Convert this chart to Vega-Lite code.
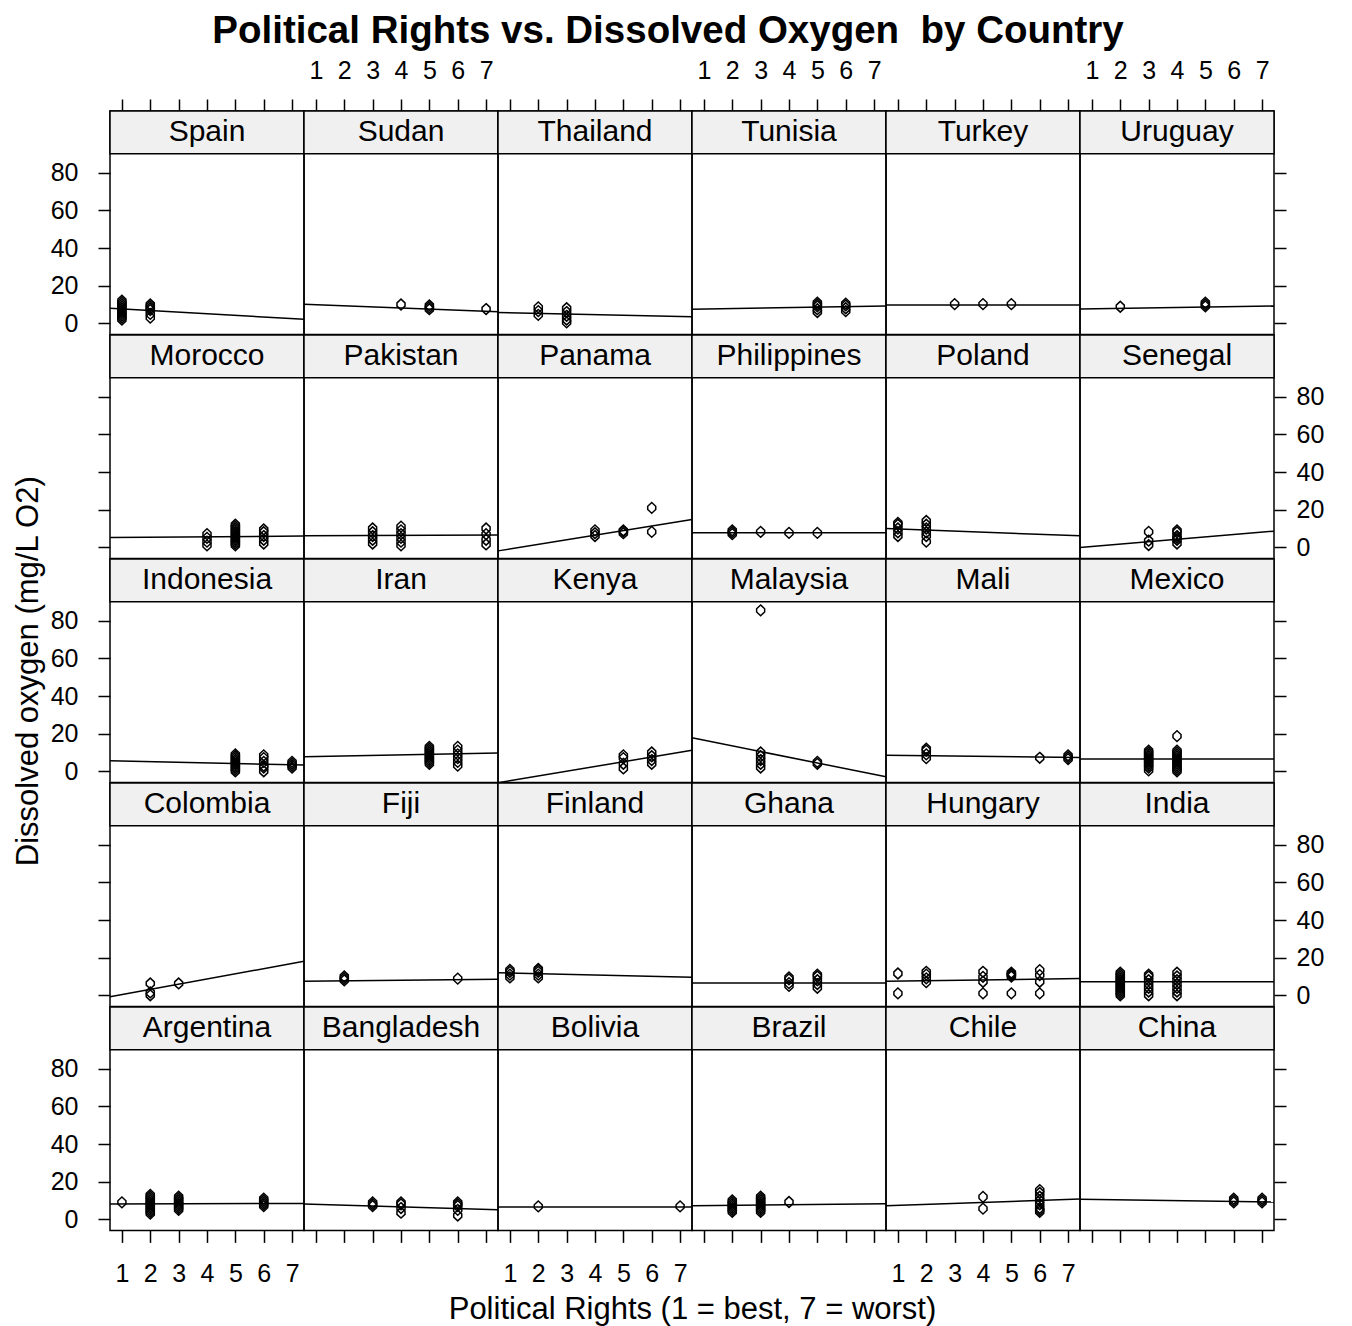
{
"$schema": "https://vega.github.io/schema/vega-lite/v6.json",
"padding": {"left": 11, "top": 11, "right": 10, "bottom": 5},
"title": {"text": "Political Rights vs. Dissolved Oxygen \u00a0by Country", "font": "Liberation Sans", "fontSize": 38.5, "fontWeight": "bold", "anchor": "middle", "offset": 6, "color": "black"},
"columns": 6,
"spacing": 0,
"bounds": "flush",
"datasets": {
"l": [
{"c":"Spain","pr":0.58,"do":8.0},{"c":"Spain","pr":7.42,"do":2.1},
{"c":"Sudan","pr":0.58,"do":10.1},{"c":"Sudan","pr":7.42,"do":6.2},
{"c":"Thailand","pr":0.58,"do":5.7},{"c":"Thailand","pr":7.42,"do":3.5},
{"c":"Tunisia","pr":0.58,"do":7.5},{"c":"Tunisia","pr":7.42,"do":9.2},
{"c":"Turkey","pr":0.58,"do":9.8},{"c":"Turkey","pr":7.42,"do":9.8},
{"c":"Uruguay","pr":0.58,"do":7.6},{"c":"Uruguay","pr":7.42,"do":9.2},
{"c":"Morocco","pr":0.58,"do":5.2},{"c":"Morocco","pr":7.42,"do":6.0},
{"c":"Pakistan","pr":0.58,"do":6.2},{"c":"Pakistan","pr":7.42,"do":6.6},
{"c":"Panama","pr":0.58,"do":-1.9},{"c":"Panama","pr":7.42,"do":14.8},
{"c":"Philippines","pr":0.58,"do":7.7},{"c":"Philippines","pr":7.42,"do":7.7},
{"c":"Poland","pr":0.58,"do":10.0},{"c":"Poland","pr":7.42,"do":6.1},
{"c":"Senegal","pr":0.58,"do":-0.1},{"c":"Senegal","pr":7.42,"do":8.6},
{"c":"Indonesia","pr":0.58,"do":5.6},{"c":"Indonesia","pr":7.42,"do":3.3},
{"c":"Iran","pr":0.58,"do":7.7},{"c":"Iran","pr":7.42,"do":9.8},
{"c":"Kenya","pr":0.58,"do":-6.1},{"c":"Kenya","pr":7.42,"do":11.2},
{"c":"Malaysia","pr":0.58,"do":17.8},{"c":"Malaysia","pr":7.42,"do":-2.9},
{"c":"Mali","pr":0.58,"do":8.5},{"c":"Mali","pr":7.42,"do":7.3},
{"c":"Mexico","pr":0.58,"do":6.5},{"c":"Mexico","pr":7.42,"do":6.5},
{"c":"Colombia","pr":0.58,"do":-0.8},{"c":"Colombia","pr":7.42,"do":18.1},
{"c":"Fiji","pr":0.58,"do":7.5},{"c":"Fiji","pr":7.42,"do":8.6},
{"c":"Finland","pr":0.58,"do":12.0},{"c":"Finland","pr":7.42,"do":9.6},
{"c":"Ghana","pr":0.58,"do":6.6},{"c":"Ghana","pr":7.42,"do":6.6},
{"c":"Hungary","pr":0.58,"do":7.5},{"c":"Hungary","pr":7.42,"do":8.9},
{"c":"India","pr":0.58,"do":7.2},{"c":"India","pr":7.42,"do":7.2},
{"c":"Argentina","pr":0.58,"do":8.2},{"c":"Argentina","pr":7.42,"do":8.4},
{"c":"Bangladesh","pr":0.58,"do":8.1},{"c":"Bangladesh","pr":7.42,"do":5.1},
{"c":"Bolivia","pr":0.58,"do":6.5},{"c":"Bolivia","pr":7.42,"do":6.5},
{"c":"Brazil","pr":0.58,"do":7.2},{"c":"Brazil","pr":7.42,"do":8.3},
{"c":"Chile","pr":0.58,"do":7.2},{"c":"Chile","pr":7.42,"do":10.8},
{"c":"China","pr":0.58,"do":10.6},{"c":"China","pr":7.42,"do":9.2}
],
"p": [
{"c":"Spain","pr":1,"do":2},{"c":"Spain","pr":1,"do":3},{"c":"Spain","pr":1,"do":4},{"c":"Spain","pr":1,"do":5},{"c":"Spain","pr":1,"do":6},{"c":"Spain","pr":1,"do":7},{"c":"Spain","pr":1,"do":8},{"c":"Spain","pr":1,"do":9},{"c":"Spain","pr":1,"do":10},{"c":"Spain","pr":1,"do":11},{"c":"Spain","pr":1,"do":12},
{"c":"Spain","pr":2,"do":3},{"c":"Spain","pr":2,"do":5},{"c":"Spain","pr":2,"do":7},{"c":"Spain","pr":2,"do":8},{"c":"Spain","pr":2,"do":9},{"c":"Spain","pr":2,"do":10},
{"c":"Sudan","pr":4,"do":10},{"c":"Sudan","pr":5,"do":7.5},{"c":"Sudan","pr":5,"do":8.5},{"c":"Sudan","pr":5,"do":9.5},{"c":"Sudan","pr":7,"do":7.6},
{"c":"Thailand","pr":2,"do":4.5},{"c":"Thailand","pr":2,"do":6.5},{"c":"Thailand","pr":2,"do":8.5},{"c":"Thailand","pr":3,"do":0.5},{"c":"Thailand","pr":3,"do":2},{"c":"Thailand","pr":3,"do":4},{"c":"Thailand","pr":3,"do":6},{"c":"Thailand","pr":3,"do":8},
{"c":"Tunisia","pr":5,"do":6},{"c":"Tunisia","pr":5,"do":7.5},{"c":"Tunisia","pr":5,"do":9},{"c":"Tunisia","pr":5,"do":10},{"c":"Tunisia","pr":5,"do":11},{"c":"Tunisia","pr":6,"do":6.5},{"c":"Tunisia","pr":6,"do":8},{"c":"Tunisia","pr":6,"do":9.5},{"c":"Tunisia","pr":6,"do":10.5},
{"c":"Turkey","pr":3,"do":10.2},{"c":"Turkey","pr":4,"do":10.2},{"c":"Turkey","pr":5,"do":10.2},
{"c":"Uruguay","pr":2,"do":8.8},{"c":"Uruguay","pr":5,"do":9},{"c":"Uruguay","pr":5,"do":10},{"c":"Uruguay","pr":5,"do":11},
{"c":"Morocco","pr":4,"do":1},{"c":"Morocco","pr":4,"do":3},{"c":"Morocco","pr":4,"do":5},{"c":"Morocco","pr":4,"do":7},
{"c":"Morocco","pr":5,"do":1},{"c":"Morocco","pr":5,"do":2},{"c":"Morocco","pr":5,"do":3},{"c":"Morocco","pr":5,"do":4},{"c":"Morocco","pr":5,"do":5},{"c":"Morocco","pr":5,"do":6},{"c":"Morocco","pr":5,"do":7},{"c":"Morocco","pr":5,"do":8},{"c":"Morocco","pr":5,"do":9},{"c":"Morocco","pr":5,"do":10},{"c":"Morocco","pr":5,"do":11},{"c":"Morocco","pr":5,"do":12},
{"c":"Morocco","pr":6,"do":2},{"c":"Morocco","pr":6,"do":4},{"c":"Morocco","pr":6,"do":6},{"c":"Morocco","pr":6,"do":8},{"c":"Morocco","pr":6,"do":9.5},
{"c":"Pakistan","pr":3,"do":2},{"c":"Pakistan","pr":3,"do":4},{"c":"Pakistan","pr":3,"do":6},{"c":"Pakistan","pr":3,"do":8},{"c":"Pakistan","pr":3,"do":10},
{"c":"Pakistan","pr":4,"do":1},{"c":"Pakistan","pr":4,"do":3},{"c":"Pakistan","pr":4,"do":5},{"c":"Pakistan","pr":4,"do":7},{"c":"Pakistan","pr":4,"do":9},{"c":"Pakistan","pr":4,"do":11},
{"c":"Pakistan","pr":7,"do":1.5},{"c":"Pakistan","pr":7,"do":4},{"c":"Pakistan","pr":7,"do":7},{"c":"Pakistan","pr":7,"do":10},
{"c":"Panama","pr":4,"do":6},{"c":"Panama","pr":4,"do":7.5},{"c":"Panama","pr":4,"do":9},{"c":"Panama","pr":5,"do":7.5},{"c":"Panama","pr":5,"do":8.5},{"c":"Panama","pr":5,"do":9},{"c":"Panama","pr":6,"do":21},{"c":"Panama","pr":6,"do":8.2},
{"c":"Philippines","pr":2,"do":7},{"c":"Philippines","pr":2,"do":8},{"c":"Philippines","pr":2,"do":9},{"c":"Philippines","pr":3,"do":8.2},{"c":"Philippines","pr":4,"do":7.7},{"c":"Philippines","pr":5,"do":7.7},
{"c":"Poland","pr":1,"do":6},{"c":"Poland","pr":1,"do":8},{"c":"Poland","pr":1,"do":10},{"c":"Poland","pr":1,"do":12},{"c":"Poland","pr":1,"do":13},
{"c":"Poland","pr":2,"do":3},{"c":"Poland","pr":2,"do":6},{"c":"Poland","pr":2,"do":8},{"c":"Poland","pr":2,"do":10},{"c":"Poland","pr":2,"do":12},{"c":"Poland","pr":2,"do":14},
{"c":"Senegal","pr":3,"do":1.2},{"c":"Senegal","pr":3,"do":3.5},{"c":"Senegal","pr":3,"do":8.2},
{"c":"Senegal","pr":4,"do":2},{"c":"Senegal","pr":4,"do":4},{"c":"Senegal","pr":4,"do":5},{"c":"Senegal","pr":4,"do":6},{"c":"Senegal","pr":4,"do":8},{"c":"Senegal","pr":4,"do":9},
{"c":"Indonesia","pr":5,"do":0},{"c":"Indonesia","pr":5,"do":1},{"c":"Indonesia","pr":5,"do":2},{"c":"Indonesia","pr":5,"do":3},{"c":"Indonesia","pr":5,"do":4},{"c":"Indonesia","pr":5,"do":5},{"c":"Indonesia","pr":5,"do":6},{"c":"Indonesia","pr":5,"do":7},{"c":"Indonesia","pr":5,"do":8},{"c":"Indonesia","pr":5,"do":9},
{"c":"Indonesia","pr":6,"do":0},{"c":"Indonesia","pr":6,"do":2},{"c":"Indonesia","pr":6,"do":3},{"c":"Indonesia","pr":6,"do":5},{"c":"Indonesia","pr":6,"do":7},{"c":"Indonesia","pr":6,"do":8.5},
{"c":"Indonesia","pr":7,"do":2},{"c":"Indonesia","pr":7,"do":3},{"c":"Indonesia","pr":7,"do":4},{"c":"Indonesia","pr":7,"do":5},
{"c":"Iran","pr":5,"do":4},{"c":"Iran","pr":5,"do":5},{"c":"Iran","pr":5,"do":6},{"c":"Iran","pr":5,"do":7},{"c":"Iran","pr":5,"do":8},{"c":"Iran","pr":5,"do":9},{"c":"Iran","pr":5,"do":10},{"c":"Iran","pr":5,"do":11},{"c":"Iran","pr":5,"do":12},{"c":"Iran","pr":5,"do":13},
{"c":"Iran","pr":6,"do":3},{"c":"Iran","pr":6,"do":5},{"c":"Iran","pr":6,"do":7},{"c":"Iran","pr":6,"do":9},{"c":"Iran","pr":6,"do":11},{"c":"Iran","pr":6,"do":13},
{"c":"Kenya","pr":5,"do":1.5},{"c":"Kenya","pr":5,"do":4},{"c":"Kenya","pr":5,"do":7},{"c":"Kenya","pr":5,"do":8.5},{"c":"Kenya","pr":6,"do":4},{"c":"Kenya","pr":6,"do":6},{"c":"Kenya","pr":6,"do":8},{"c":"Kenya","pr":6,"do":10},
{"c":"Malaysia","pr":3,"do":85.6},{"c":"Malaysia","pr":3,"do":2},{"c":"Malaysia","pr":3,"do":4},{"c":"Malaysia","pr":3,"do":6},{"c":"Malaysia","pr":3,"do":8},{"c":"Malaysia","pr":3,"do":10},{"c":"Malaysia","pr":5,"do":4},{"c":"Malaysia","pr":5,"do":5},
{"c":"Mali","pr":2,"do":7},{"c":"Mali","pr":2,"do":9},{"c":"Mali","pr":2,"do":11},{"c":"Mali","pr":2,"do":12},{"c":"Mali","pr":6,"do":7.2},{"c":"Mali","pr":7,"do":6.5},{"c":"Mali","pr":7,"do":7.5},{"c":"Mali","pr":7,"do":8.5},
{"c":"Mexico","pr":3,"do":0.5},{"c":"Mexico","pr":3,"do":2},{"c":"Mexico","pr":3,"do":3},{"c":"Mexico","pr":3,"do":4},{"c":"Mexico","pr":3,"do":5},{"c":"Mexico","pr":3,"do":6},{"c":"Mexico","pr":3,"do":7},{"c":"Mexico","pr":3,"do":8},{"c":"Mexico","pr":3,"do":9},{"c":"Mexico","pr":3,"do":10},{"c":"Mexico","pr":3,"do":11},
{"c":"Mexico","pr":4,"do":18.7},{"c":"Mexico","pr":4,"do":0},{"c":"Mexico","pr":4,"do":1},{"c":"Mexico","pr":4,"do":2},{"c":"Mexico","pr":4,"do":3},{"c":"Mexico","pr":4,"do":4},{"c":"Mexico","pr":4,"do":5},{"c":"Mexico","pr":4,"do":6},{"c":"Mexico","pr":4,"do":7},{"c":"Mexico","pr":4,"do":8},{"c":"Mexico","pr":4,"do":9},{"c":"Mexico","pr":4,"do":10},{"c":"Mexico","pr":4,"do":11},
{"c":"Colombia","pr":2,"do":0},{"c":"Colombia","pr":2,"do":1.5},{"c":"Colombia","pr":2,"do":6.3},{"c":"Colombia","pr":3,"do":6.3},
{"c":"Fiji","pr":2,"do":8},{"c":"Fiji","pr":2,"do":9},{"c":"Fiji","pr":2,"do":10},{"c":"Fiji","pr":6,"do":8.9},
{"c":"Finland","pr":1,"do":9.5},{"c":"Finland","pr":1,"do":11},{"c":"Finland","pr":1,"do":12.5},{"c":"Finland","pr":1,"do":13.5},{"c":"Finland","pr":2,"do":9.5},{"c":"Finland","pr":2,"do":11},{"c":"Finland","pr":2,"do":12.5},{"c":"Finland","pr":2,"do":13.5},{"c":"Finland","pr":2,"do":14},
{"c":"Ghana","pr":4,"do":5},{"c":"Ghana","pr":4,"do":6.5},{"c":"Ghana","pr":4,"do":8.5},{"c":"Ghana","pr":4,"do":9.5},{"c":"Ghana","pr":5,"do":4},{"c":"Ghana","pr":5,"do":6},{"c":"Ghana","pr":5,"do":8},{"c":"Ghana","pr":5,"do":10},{"c":"Ghana","pr":5,"do":11},
{"c":"Hungary","pr":1,"do":11.6},{"c":"Hungary","pr":1,"do":1},{"c":"Hungary","pr":2,"do":7},{"c":"Hungary","pr":2,"do":9},{"c":"Hungary","pr":2,"do":11},{"c":"Hungary","pr":2,"do":12.5},
{"c":"Hungary","pr":4,"do":12.5},{"c":"Hungary","pr":4,"do":9.8},{"c":"Hungary","pr":4,"do":7.2},{"c":"Hungary","pr":4,"do":1},
{"c":"Hungary","pr":5,"do":10},{"c":"Hungary","pr":5,"do":10.7},{"c":"Hungary","pr":5,"do":11.5},{"c":"Hungary","pr":5,"do":12},{"c":"Hungary","pr":5,"do":1},
{"c":"Hungary","pr":6,"do":13.4},{"c":"Hungary","pr":6,"do":10.7},{"c":"Hungary","pr":6,"do":7.2},{"c":"Hungary","pr":6,"do":1},
{"c":"India","pr":2,"do":0},{"c":"India","pr":2,"do":1},{"c":"India","pr":2,"do":2},{"c":"India","pr":2,"do":3},{"c":"India","pr":2,"do":4},{"c":"India","pr":2,"do":5},{"c":"India","pr":2,"do":6},{"c":"India","pr":2,"do":7},{"c":"India","pr":2,"do":8},{"c":"India","pr":2,"do":9},{"c":"India","pr":2,"do":10},{"c":"India","pr":2,"do":11},{"c":"India","pr":2,"do":12},
{"c":"India","pr":3,"do":0},{"c":"India","pr":3,"do":2},{"c":"India","pr":3,"do":4},{"c":"India","pr":3,"do":6},{"c":"India","pr":3,"do":8},{"c":"India","pr":3,"do":10},{"c":"India","pr":3,"do":11},
{"c":"India","pr":4,"do":0},{"c":"India","pr":4,"do":2},{"c":"India","pr":4,"do":4},{"c":"India","pr":4,"do":6},{"c":"India","pr":4,"do":8},{"c":"India","pr":4,"do":10},{"c":"India","pr":4,"do":12},
{"c":"Argentina","pr":1,"do":9},
{"c":"Argentina","pr":2,"do":3},{"c":"Argentina","pr":2,"do":4},{"c":"Argentina","pr":2,"do":5},{"c":"Argentina","pr":2,"do":6},{"c":"Argentina","pr":2,"do":7},{"c":"Argentina","pr":2,"do":8},{"c":"Argentina","pr":2,"do":9},{"c":"Argentina","pr":2,"do":10},{"c":"Argentina","pr":2,"do":11},{"c":"Argentina","pr":2,"do":12},{"c":"Argentina","pr":2,"do":13},
{"c":"Argentina","pr":3,"do":5},{"c":"Argentina","pr":3,"do":6},{"c":"Argentina","pr":3,"do":7},{"c":"Argentina","pr":3,"do":8},{"c":"Argentina","pr":3,"do":9},{"c":"Argentina","pr":3,"do":10},{"c":"Argentina","pr":3,"do":11},{"c":"Argentina","pr":3,"do":12},
{"c":"Argentina","pr":6,"do":7},{"c":"Argentina","pr":6,"do":8},{"c":"Argentina","pr":6,"do":9},{"c":"Argentina","pr":6,"do":10},{"c":"Argentina","pr":6,"do":11},
{"c":"Bangladesh","pr":3,"do":7},{"c":"Bangladesh","pr":3,"do":8},{"c":"Bangladesh","pr":3,"do":9},{"c":"Bangladesh","pr":4,"do":3.5},{"c":"Bangladesh","pr":4,"do":6},{"c":"Bangladesh","pr":4,"do":8},{"c":"Bangladesh","pr":4,"do":9},
{"c":"Bangladesh","pr":6,"do":2},{"c":"Bangladesh","pr":6,"do":5},{"c":"Bangladesh","pr":6,"do":7},{"c":"Bangladesh","pr":6,"do":8},{"c":"Bangladesh","pr":6,"do":9},
{"c":"Bolivia","pr":2,"do":6.9},{"c":"Bolivia","pr":7,"do":6.9},
{"c":"Brazil","pr":2,"do":4},{"c":"Brazil","pr":2,"do":5},{"c":"Brazil","pr":2,"do":6},{"c":"Brazil","pr":2,"do":7},{"c":"Brazil","pr":2,"do":8},{"c":"Brazil","pr":2,"do":9},{"c":"Brazil","pr":2,"do":10},
{"c":"Brazil","pr":3,"do":4},{"c":"Brazil","pr":3,"do":5},{"c":"Brazil","pr":3,"do":6},{"c":"Brazil","pr":3,"do":7},{"c":"Brazil","pr":3,"do":8},{"c":"Brazil","pr":3,"do":9},{"c":"Brazil","pr":3,"do":10},{"c":"Brazil","pr":3,"do":11},{"c":"Brazil","pr":3,"do":12},
{"c":"Brazil","pr":4,"do":9.2},
{"c":"Chile","pr":4,"do":11.9},{"c":"Chile","pr":4,"do":5.7},
{"c":"Chile","pr":6,"do":4},{"c":"Chile","pr":6,"do":5},{"c":"Chile","pr":6,"do":6},{"c":"Chile","pr":6,"do":8},{"c":"Chile","pr":6,"do":10},{"c":"Chile","pr":6,"do":12},{"c":"Chile","pr":6,"do":14},{"c":"Chile","pr":6,"do":15.5},
{"c":"China","pr":6,"do":9},{"c":"China","pr":6,"do":10},{"c":"China","pr":6,"do":11},{"c":"China","pr":7,"do":9},{"c":"China","pr":7,"do":10},{"c":"China","pr":7,"do":11}
]
},
"concat": [
{"layer":[
{"data":{"values":[{}]},"mark":"rect","encoding":{"x":{"datum":0.58,"type":"quantitative","scale":{"domain":[0.58,7.42]}},"x2":{"datum":7.42},"y":{"datum":90.1,"type":"quantitative","scale":{"domain":[-5.9,112.9]}},"y2":{"datum":112.9}}},
{"data":{"values":[{}]},"mark":{"type":"text","text":"Spain"},"encoding":{"x":{"datum":4,"type":"quantitative","scale":{"domain":[0.58,7.42]}},"y":{"datum":101.5,"type":"quantitative","scale":{"domain":[-5.9,112.9]}}}},
{"data":{"name":"l"},"transform":[{"filter":"datum.c=='Spain'"}],"mark":"line","encoding":{"x":{"field":"pr","type":"quantitative","scale":{"domain":[0.58,7.42]},"axis":{"orient":"top","values":[1,2,3,4,5,6,7],"labels":false,"title":null}},"y":{"field":"do","type":"quantitative","scale":{"domain":[-5.9,112.9]}}}},
{"data":{"name":"p"},"transform":[{"filter":"datum.c=='Spain'"}],"mark":"point","encoding":{"x":{"field":"pr","type":"quantitative","scale":{"domain":[0.58,7.42]}},"y":{"field":"do","type":"quantitative","scale":{"domain":[-5.9,112.9]},"axis":{"orient":"left","values":[0,20,40,60,80],"title":null}}}}
],"resolve":{"axis":{"x":"independent","y":"independent"}}},
{"layer":[
{"data":{"values":[{}]},"mark":"rect","encoding":{"x":{"datum":0.58,"type":"quantitative","scale":{"domain":[0.58,7.42]}},"x2":{"datum":7.42},"y":{"datum":90.1,"type":"quantitative","scale":{"domain":[-5.9,112.9]}},"y2":{"datum":112.9}}},
{"data":{"values":[{}]},"mark":{"type":"text","text":"Sudan"},"encoding":{"x":{"datum":4,"type":"quantitative","scale":{"domain":[0.58,7.42]}},"y":{"datum":101.5,"type":"quantitative","scale":{"domain":[-5.9,112.9]}}}},
{"data":{"name":"l"},"transform":[{"filter":"datum.c=='Sudan'"}],"mark":"line","encoding":{"x":{"field":"pr","type":"quantitative","scale":{"domain":[0.58,7.42]},"axis":{"orient":"top","values":[1,2,3,4,5,6,7],"title":null}},"y":{"field":"do","type":"quantitative","scale":{"domain":[-5.9,112.9]}}}},
{"data":{"name":"p"},"transform":[{"filter":"datum.c=='Sudan'"}],"mark":"point","encoding":{"x":{"field":"pr","type":"quantitative","scale":{"domain":[0.58,7.42]}},"y":{"field":"do","type":"quantitative","scale":{"domain":[-5.9,112.9]}}}}
],"resolve":{"axis":{"x":"independent","y":"independent"}}},
{"layer":[
{"data":{"values":[{}]},"mark":"rect","encoding":{"x":{"datum":0.58,"type":"quantitative","scale":{"domain":[0.58,7.42]}},"x2":{"datum":7.42},"y":{"datum":90.1,"type":"quantitative","scale":{"domain":[-5.9,112.9]}},"y2":{"datum":112.9}}},
{"data":{"values":[{}]},"mark":{"type":"text","text":"Thailand"},"encoding":{"x":{"datum":4,"type":"quantitative","scale":{"domain":[0.58,7.42]}},"y":{"datum":101.5,"type":"quantitative","scale":{"domain":[-5.9,112.9]}}}},
{"data":{"name":"l"},"transform":[{"filter":"datum.c=='Thailand'"}],"mark":"line","encoding":{"x":{"field":"pr","type":"quantitative","scale":{"domain":[0.58,7.42]},"axis":{"orient":"top","values":[1,2,3,4,5,6,7],"labels":false,"title":null}},"y":{"field":"do","type":"quantitative","scale":{"domain":[-5.9,112.9]}}}},
{"data":{"name":"p"},"transform":[{"filter":"datum.c=='Thailand'"}],"mark":"point","encoding":{"x":{"field":"pr","type":"quantitative","scale":{"domain":[0.58,7.42]}},"y":{"field":"do","type":"quantitative","scale":{"domain":[-5.9,112.9]}}}}
],"resolve":{"axis":{"x":"independent","y":"independent"}}},
{"layer":[
{"data":{"values":[{}]},"mark":"rect","encoding":{"x":{"datum":0.58,"type":"quantitative","scale":{"domain":[0.58,7.42]}},"x2":{"datum":7.42},"y":{"datum":90.1,"type":"quantitative","scale":{"domain":[-5.9,112.9]}},"y2":{"datum":112.9}}},
{"data":{"values":[{}]},"mark":{"type":"text","text":"Tunisia"},"encoding":{"x":{"datum":4,"type":"quantitative","scale":{"domain":[0.58,7.42]}},"y":{"datum":101.5,"type":"quantitative","scale":{"domain":[-5.9,112.9]}}}},
{"data":{"name":"l"},"transform":[{"filter":"datum.c=='Tunisia'"}],"mark":"line","encoding":{"x":{"field":"pr","type":"quantitative","scale":{"domain":[0.58,7.42]},"axis":{"orient":"top","values":[1,2,3,4,5,6,7],"title":null}},"y":{"field":"do","type":"quantitative","scale":{"domain":[-5.9,112.9]}}}},
{"data":{"name":"p"},"transform":[{"filter":"datum.c=='Tunisia'"}],"mark":"point","encoding":{"x":{"field":"pr","type":"quantitative","scale":{"domain":[0.58,7.42]}},"y":{"field":"do","type":"quantitative","scale":{"domain":[-5.9,112.9]}}}}
],"resolve":{"axis":{"x":"independent","y":"independent"}}},
{"layer":[
{"data":{"values":[{}]},"mark":"rect","encoding":{"x":{"datum":0.58,"type":"quantitative","scale":{"domain":[0.58,7.42]}},"x2":{"datum":7.42},"y":{"datum":90.1,"type":"quantitative","scale":{"domain":[-5.9,112.9]}},"y2":{"datum":112.9}}},
{"data":{"values":[{}]},"mark":{"type":"text","text":"Turkey"},"encoding":{"x":{"datum":4,"type":"quantitative","scale":{"domain":[0.58,7.42]}},"y":{"datum":101.5,"type":"quantitative","scale":{"domain":[-5.9,112.9]}}}},
{"data":{"name":"l"},"transform":[{"filter":"datum.c=='Turkey'"}],"mark":"line","encoding":{"x":{"field":"pr","type":"quantitative","scale":{"domain":[0.58,7.42]},"axis":{"orient":"top","values":[1,2,3,4,5,6,7],"labels":false,"title":null}},"y":{"field":"do","type":"quantitative","scale":{"domain":[-5.9,112.9]}}}},
{"data":{"name":"p"},"transform":[{"filter":"datum.c=='Turkey'"}],"mark":"point","encoding":{"x":{"field":"pr","type":"quantitative","scale":{"domain":[0.58,7.42]}},"y":{"field":"do","type":"quantitative","scale":{"domain":[-5.9,112.9]}}}}
],"resolve":{"axis":{"x":"independent","y":"independent"}}},
{"layer":[
{"data":{"values":[{}]},"mark":"rect","encoding":{"x":{"datum":0.58,"type":"quantitative","scale":{"domain":[0.58,7.42]}},"x2":{"datum":7.42},"y":{"datum":90.1,"type":"quantitative","scale":{"domain":[-5.9,112.9]}},"y2":{"datum":112.9}}},
{"data":{"values":[{}]},"mark":{"type":"text","text":"Uruguay"},"encoding":{"x":{"datum":4,"type":"quantitative","scale":{"domain":[0.58,7.42]}},"y":{"datum":101.5,"type":"quantitative","scale":{"domain":[-5.9,112.9]}}}},
{"data":{"name":"l"},"transform":[{"filter":"datum.c=='Uruguay'"}],"mark":"line","encoding":{"x":{"field":"pr","type":"quantitative","scale":{"domain":[0.58,7.42]},"axis":{"orient":"top","values":[1,2,3,4,5,6,7],"title":null}},"y":{"field":"do","type":"quantitative","scale":{"domain":[-5.9,112.9]},"axis":{"orient":"right","values":[0,20,40,60,80],"labels":false,"title":null}}}},
{"data":{"name":"p"},"transform":[{"filter":"datum.c=='Uruguay'"}],"mark":"point","encoding":{"x":{"field":"pr","type":"quantitative","scale":{"domain":[0.58,7.42]}},"y":{"field":"do","type":"quantitative","scale":{"domain":[-5.9,112.9]}}}}
],"resolve":{"axis":{"x":"independent","y":"independent"}}},

{"layer":[
{"data":{"values":[{}]},"mark":"rect","encoding":{"x":{"datum":0.58,"type":"quantitative","scale":{"domain":[0.58,7.42]}},"x2":{"datum":7.42},"y":{"datum":90.1,"type":"quantitative","scale":{"domain":[-5.9,112.9]}},"y2":{"datum":112.9}}},
{"data":{"values":[{}]},"mark":{"type":"text","text":"Morocco"},"encoding":{"x":{"datum":4,"type":"quantitative","scale":{"domain":[0.58,7.42]}},"y":{"datum":101.5,"type":"quantitative","scale":{"domain":[-5.9,112.9]}}}},
{"data":{"name":"l"},"transform":[{"filter":"datum.c=='Morocco'"}],"mark":"line","encoding":{"x":{"field":"pr","type":"quantitative","scale":{"domain":[0.58,7.42]}},"y":{"field":"do","type":"quantitative","scale":{"domain":[-5.9,112.9]}}}},
{"data":{"name":"p"},"transform":[{"filter":"datum.c=='Morocco'"}],"mark":"point","encoding":{"x":{"field":"pr","type":"quantitative","scale":{"domain":[0.58,7.42]}},"y":{"field":"do","type":"quantitative","scale":{"domain":[-5.9,112.9]},"axis":{"orient":"left","values":[0,20,40,60,80],"labels":false,"title":null}}}}
],"resolve":{"axis":{"x":"independent","y":"independent"}}},
{"layer":[
{"data":{"values":[{}]},"mark":"rect","encoding":{"x":{"datum":0.58,"type":"quantitative","scale":{"domain":[0.58,7.42]}},"x2":{"datum":7.42},"y":{"datum":90.1,"type":"quantitative","scale":{"domain":[-5.9,112.9]}},"y2":{"datum":112.9}}},
{"data":{"values":[{}]},"mark":{"type":"text","text":"Pakistan"},"encoding":{"x":{"datum":4,"type":"quantitative","scale":{"domain":[0.58,7.42]}},"y":{"datum":101.5,"type":"quantitative","scale":{"domain":[-5.9,112.9]}}}},
{"data":{"name":"l"},"transform":[{"filter":"datum.c=='Pakistan'"}],"mark":"line","encoding":{"x":{"field":"pr","type":"quantitative","scale":{"domain":[0.58,7.42]}},"y":{"field":"do","type":"quantitative","scale":{"domain":[-5.9,112.9]}}}},
{"data":{"name":"p"},"transform":[{"filter":"datum.c=='Pakistan'"}],"mark":"point","encoding":{"x":{"field":"pr","type":"quantitative","scale":{"domain":[0.58,7.42]}},"y":{"field":"do","type":"quantitative","scale":{"domain":[-5.9,112.9]}}}}
]},
{"layer":[
{"data":{"values":[{}]},"mark":"rect","encoding":{"x":{"datum":0.58,"type":"quantitative","scale":{"domain":[0.58,7.42]}},"x2":{"datum":7.42},"y":{"datum":90.1,"type":"quantitative","scale":{"domain":[-5.9,112.9]}},"y2":{"datum":112.9}}},
{"data":{"values":[{}]},"mark":{"type":"text","text":"Panama"},"encoding":{"x":{"datum":4,"type":"quantitative","scale":{"domain":[0.58,7.42]}},"y":{"datum":101.5,"type":"quantitative","scale":{"domain":[-5.9,112.9]}}}},
{"data":{"name":"l"},"transform":[{"filter":"datum.c=='Panama'"}],"mark":"line","encoding":{"x":{"field":"pr","type":"quantitative","scale":{"domain":[0.58,7.42]}},"y":{"field":"do","type":"quantitative","scale":{"domain":[-5.9,112.9]}}}},
{"data":{"name":"p"},"transform":[{"filter":"datum.c=='Panama'"}],"mark":"point","encoding":{"x":{"field":"pr","type":"quantitative","scale":{"domain":[0.58,7.42]}},"y":{"field":"do","type":"quantitative","scale":{"domain":[-5.9,112.9]}}}}
]},
{"layer":[
{"data":{"values":[{}]},"mark":"rect","encoding":{"x":{"datum":0.58,"type":"quantitative","scale":{"domain":[0.58,7.42]}},"x2":{"datum":7.42},"y":{"datum":90.1,"type":"quantitative","scale":{"domain":[-5.9,112.9]}},"y2":{"datum":112.9}}},
{"data":{"values":[{}]},"mark":{"type":"text","text":"Philippines"},"encoding":{"x":{"datum":4,"type":"quantitative","scale":{"domain":[0.58,7.42]}},"y":{"datum":101.5,"type":"quantitative","scale":{"domain":[-5.9,112.9]}}}},
{"data":{"name":"l"},"transform":[{"filter":"datum.c=='Philippines'"}],"mark":"line","encoding":{"x":{"field":"pr","type":"quantitative","scale":{"domain":[0.58,7.42]}},"y":{"field":"do","type":"quantitative","scale":{"domain":[-5.9,112.9]}}}},
{"data":{"name":"p"},"transform":[{"filter":"datum.c=='Philippines'"}],"mark":"point","encoding":{"x":{"field":"pr","type":"quantitative","scale":{"domain":[0.58,7.42]}},"y":{"field":"do","type":"quantitative","scale":{"domain":[-5.9,112.9]}}}}
]},
{"layer":[
{"data":{"values":[{}]},"mark":"rect","encoding":{"x":{"datum":0.58,"type":"quantitative","scale":{"domain":[0.58,7.42]}},"x2":{"datum":7.42},"y":{"datum":90.1,"type":"quantitative","scale":{"domain":[-5.9,112.9]}},"y2":{"datum":112.9}}},
{"data":{"values":[{}]},"mark":{"type":"text","text":"Poland"},"encoding":{"x":{"datum":4,"type":"quantitative","scale":{"domain":[0.58,7.42]}},"y":{"datum":101.5,"type":"quantitative","scale":{"domain":[-5.9,112.9]}}}},
{"data":{"name":"l"},"transform":[{"filter":"datum.c=='Poland'"}],"mark":"line","encoding":{"x":{"field":"pr","type":"quantitative","scale":{"domain":[0.58,7.42]}},"y":{"field":"do","type":"quantitative","scale":{"domain":[-5.9,112.9]}}}},
{"data":{"name":"p"},"transform":[{"filter":"datum.c=='Poland'"}],"mark":"point","encoding":{"x":{"field":"pr","type":"quantitative","scale":{"domain":[0.58,7.42]}},"y":{"field":"do","type":"quantitative","scale":{"domain":[-5.9,112.9]}}}}
]},
{"layer":[
{"data":{"values":[{}]},"mark":"rect","encoding":{"x":{"datum":0.58,"type":"quantitative","scale":{"domain":[0.58,7.42]}},"x2":{"datum":7.42},"y":{"datum":90.1,"type":"quantitative","scale":{"domain":[-5.9,112.9]}},"y2":{"datum":112.9}}},
{"data":{"values":[{}]},"mark":{"type":"text","text":"Senegal"},"encoding":{"x":{"datum":4,"type":"quantitative","scale":{"domain":[0.58,7.42]}},"y":{"datum":101.5,"type":"quantitative","scale":{"domain":[-5.9,112.9]}}}},
{"data":{"name":"l"},"transform":[{"filter":"datum.c=='Senegal'"}],"mark":"line","encoding":{"x":{"field":"pr","type":"quantitative","scale":{"domain":[0.58,7.42]}},"y":{"field":"do","type":"quantitative","scale":{"domain":[-5.9,112.9]},"axis":{"orient":"right","values":[0,20,40,60,80],"title":null}}}},
{"data":{"name":"p"},"transform":[{"filter":"datum.c=='Senegal'"}],"mark":"point","encoding":{"x":{"field":"pr","type":"quantitative","scale":{"domain":[0.58,7.42]}},"y":{"field":"do","type":"quantitative","scale":{"domain":[-5.9,112.9]}}}}
],"resolve":{"axis":{"x":"independent","y":"independent"}}},

{"layer":[
{"data":{"values":[{}]},"mark":"rect","encoding":{"x":{"datum":0.58,"type":"quantitative","scale":{"domain":[0.58,7.42]}},"x2":{"datum":7.42},"y":{"datum":90.1,"type":"quantitative","scale":{"domain":[-5.9,112.9]}},"y2":{"datum":112.9}}},
{"data":{"values":[{}]},"mark":{"type":"text","text":"Indonesia"},"encoding":{"x":{"datum":4,"type":"quantitative","scale":{"domain":[0.58,7.42]}},"y":{"datum":101.5,"type":"quantitative","scale":{"domain":[-5.9,112.9]}}}},
{"data":{"name":"l"},"transform":[{"filter":"datum.c=='Indonesia'"}],"mark":"line","encoding":{"x":{"field":"pr","type":"quantitative","scale":{"domain":[0.58,7.42]}},"y":{"field":"do","type":"quantitative","scale":{"domain":[-5.9,112.9]}}}},
{"data":{"name":"p"},"transform":[{"filter":"datum.c=='Indonesia'"}],"mark":"point","encoding":{"x":{"field":"pr","type":"quantitative","scale":{"domain":[0.58,7.42]}},"y":{"field":"do","type":"quantitative","scale":{"domain":[-5.9,112.9]},"axis":{"orient":"left","values":[0,20,40,60,80],"title":"Dissolved oxygen (mg/L O2)","titlePadding":6}}}}
],"resolve":{"axis":{"x":"independent","y":"independent"}}},
{"layer":[
{"data":{"values":[{}]},"mark":"rect","encoding":{"x":{"datum":0.58,"type":"quantitative","scale":{"domain":[0.58,7.42]}},"x2":{"datum":7.42},"y":{"datum":90.1,"type":"quantitative","scale":{"domain":[-5.9,112.9]}},"y2":{"datum":112.9}}},
{"data":{"values":[{}]},"mark":{"type":"text","text":"Iran"},"encoding":{"x":{"datum":4,"type":"quantitative","scale":{"domain":[0.58,7.42]}},"y":{"datum":101.5,"type":"quantitative","scale":{"domain":[-5.9,112.9]}}}},
{"data":{"name":"l"},"transform":[{"filter":"datum.c=='Iran'"}],"mark":"line","encoding":{"x":{"field":"pr","type":"quantitative","scale":{"domain":[0.58,7.42]}},"y":{"field":"do","type":"quantitative","scale":{"domain":[-5.9,112.9]}}}},
{"data":{"name":"p"},"transform":[{"filter":"datum.c=='Iran'"}],"mark":"point","encoding":{"x":{"field":"pr","type":"quantitative","scale":{"domain":[0.58,7.42]}},"y":{"field":"do","type":"quantitative","scale":{"domain":[-5.9,112.9]}}}}
]},
{"layer":[
{"data":{"values":[{}]},"mark":"rect","encoding":{"x":{"datum":0.58,"type":"quantitative","scale":{"domain":[0.58,7.42]}},"x2":{"datum":7.42},"y":{"datum":90.1,"type":"quantitative","scale":{"domain":[-5.9,112.9]}},"y2":{"datum":112.9}}},
{"data":{"values":[{}]},"mark":{"type":"text","text":"Kenya"},"encoding":{"x":{"datum":4,"type":"quantitative","scale":{"domain":[0.58,7.42]}},"y":{"datum":101.5,"type":"quantitative","scale":{"domain":[-5.9,112.9]}}}},
{"data":{"name":"l"},"transform":[{"filter":"datum.c=='Kenya'"}],"mark":"line","encoding":{"x":{"field":"pr","type":"quantitative","scale":{"domain":[0.58,7.42]}},"y":{"field":"do","type":"quantitative","scale":{"domain":[-5.9,112.9]}}}},
{"data":{"name":"p"},"transform":[{"filter":"datum.c=='Kenya'"}],"mark":"point","encoding":{"x":{"field":"pr","type":"quantitative","scale":{"domain":[0.58,7.42]}},"y":{"field":"do","type":"quantitative","scale":{"domain":[-5.9,112.9]}}}}
]},
{"layer":[
{"data":{"values":[{}]},"mark":"rect","encoding":{"x":{"datum":0.58,"type":"quantitative","scale":{"domain":[0.58,7.42]}},"x2":{"datum":7.42},"y":{"datum":90.1,"type":"quantitative","scale":{"domain":[-5.9,112.9]}},"y2":{"datum":112.9}}},
{"data":{"values":[{}]},"mark":{"type":"text","text":"Malaysia"},"encoding":{"x":{"datum":4,"type":"quantitative","scale":{"domain":[0.58,7.42]}},"y":{"datum":101.5,"type":"quantitative","scale":{"domain":[-5.9,112.9]}}}},
{"data":{"name":"l"},"transform":[{"filter":"datum.c=='Malaysia'"}],"mark":"line","encoding":{"x":{"field":"pr","type":"quantitative","scale":{"domain":[0.58,7.42]}},"y":{"field":"do","type":"quantitative","scale":{"domain":[-5.9,112.9]}}}},
{"data":{"name":"p"},"transform":[{"filter":"datum.c=='Malaysia'"}],"mark":"point","encoding":{"x":{"field":"pr","type":"quantitative","scale":{"domain":[0.58,7.42]}},"y":{"field":"do","type":"quantitative","scale":{"domain":[-5.9,112.9]}}}}
]},
{"layer":[
{"data":{"values":[{}]},"mark":"rect","encoding":{"x":{"datum":0.58,"type":"quantitative","scale":{"domain":[0.58,7.42]}},"x2":{"datum":7.42},"y":{"datum":90.1,"type":"quantitative","scale":{"domain":[-5.9,112.9]}},"y2":{"datum":112.9}}},
{"data":{"values":[{}]},"mark":{"type":"text","text":"Mali"},"encoding":{"x":{"datum":4,"type":"quantitative","scale":{"domain":[0.58,7.42]}},"y":{"datum":101.5,"type":"quantitative","scale":{"domain":[-5.9,112.9]}}}},
{"data":{"name":"l"},"transform":[{"filter":"datum.c=='Mali'"}],"mark":"line","encoding":{"x":{"field":"pr","type":"quantitative","scale":{"domain":[0.58,7.42]}},"y":{"field":"do","type":"quantitative","scale":{"domain":[-5.9,112.9]}}}},
{"data":{"name":"p"},"transform":[{"filter":"datum.c=='Mali'"}],"mark":"point","encoding":{"x":{"field":"pr","type":"quantitative","scale":{"domain":[0.58,7.42]}},"y":{"field":"do","type":"quantitative","scale":{"domain":[-5.9,112.9]}}}}
]},
{"layer":[
{"data":{"values":[{}]},"mark":"rect","encoding":{"x":{"datum":0.58,"type":"quantitative","scale":{"domain":[0.58,7.42]}},"x2":{"datum":7.42},"y":{"datum":90.1,"type":"quantitative","scale":{"domain":[-5.9,112.9]}},"y2":{"datum":112.9}}},
{"data":{"values":[{}]},"mark":{"type":"text","text":"Mexico"},"encoding":{"x":{"datum":4,"type":"quantitative","scale":{"domain":[0.58,7.42]}},"y":{"datum":101.5,"type":"quantitative","scale":{"domain":[-5.9,112.9]}}}},
{"data":{"name":"l"},"transform":[{"filter":"datum.c=='Mexico'"}],"mark":"line","encoding":{"x":{"field":"pr","type":"quantitative","scale":{"domain":[0.58,7.42]}},"y":{"field":"do","type":"quantitative","scale":{"domain":[-5.9,112.9]},"axis":{"orient":"right","values":[0,20,40,60,80],"labels":false,"title":null}}}},
{"data":{"name":"p"},"transform":[{"filter":"datum.c=='Mexico'"}],"mark":"point","encoding":{"x":{"field":"pr","type":"quantitative","scale":{"domain":[0.58,7.42]}},"y":{"field":"do","type":"quantitative","scale":{"domain":[-5.9,112.9]}}}}
],"resolve":{"axis":{"x":"independent","y":"independent"}}},

{"layer":[
{"data":{"values":[{}]},"mark":"rect","encoding":{"x":{"datum":0.58,"type":"quantitative","scale":{"domain":[0.58,7.42]}},"x2":{"datum":7.42},"y":{"datum":90.1,"type":"quantitative","scale":{"domain":[-5.9,112.9]}},"y2":{"datum":112.9}}},
{"data":{"values":[{}]},"mark":{"type":"text","text":"Colombia"},"encoding":{"x":{"datum":4,"type":"quantitative","scale":{"domain":[0.58,7.42]}},"y":{"datum":101.5,"type":"quantitative","scale":{"domain":[-5.9,112.9]}}}},
{"data":{"name":"l"},"transform":[{"filter":"datum.c=='Colombia'"}],"mark":"line","encoding":{"x":{"field":"pr","type":"quantitative","scale":{"domain":[0.58,7.42]}},"y":{"field":"do","type":"quantitative","scale":{"domain":[-5.9,112.9]}}}},
{"data":{"name":"p"},"transform":[{"filter":"datum.c=='Colombia'"}],"mark":"point","encoding":{"x":{"field":"pr","type":"quantitative","scale":{"domain":[0.58,7.42]}},"y":{"field":"do","type":"quantitative","scale":{"domain":[-5.9,112.9]},"axis":{"orient":"left","values":[0,20,40,60,80],"labels":false,"title":null}}}}
],"resolve":{"axis":{"x":"independent","y":"independent"}}},
{"layer":[
{"data":{"values":[{}]},"mark":"rect","encoding":{"x":{"datum":0.58,"type":"quantitative","scale":{"domain":[0.58,7.42]}},"x2":{"datum":7.42},"y":{"datum":90.1,"type":"quantitative","scale":{"domain":[-5.9,112.9]}},"y2":{"datum":112.9}}},
{"data":{"values":[{}]},"mark":{"type":"text","text":"Fiji"},"encoding":{"x":{"datum":4,"type":"quantitative","scale":{"domain":[0.58,7.42]}},"y":{"datum":101.5,"type":"quantitative","scale":{"domain":[-5.9,112.9]}}}},
{"data":{"name":"l"},"transform":[{"filter":"datum.c=='Fiji'"}],"mark":"line","encoding":{"x":{"field":"pr","type":"quantitative","scale":{"domain":[0.58,7.42]}},"y":{"field":"do","type":"quantitative","scale":{"domain":[-5.9,112.9]}}}},
{"data":{"name":"p"},"transform":[{"filter":"datum.c=='Fiji'"}],"mark":"point","encoding":{"x":{"field":"pr","type":"quantitative","scale":{"domain":[0.58,7.42]}},"y":{"field":"do","type":"quantitative","scale":{"domain":[-5.9,112.9]}}}}
]},
{"layer":[
{"data":{"values":[{}]},"mark":"rect","encoding":{"x":{"datum":0.58,"type":"quantitative","scale":{"domain":[0.58,7.42]}},"x2":{"datum":7.42},"y":{"datum":90.1,"type":"quantitative","scale":{"domain":[-5.9,112.9]}},"y2":{"datum":112.9}}},
{"data":{"values":[{}]},"mark":{"type":"text","text":"Finland"},"encoding":{"x":{"datum":4,"type":"quantitative","scale":{"domain":[0.58,7.42]}},"y":{"datum":101.5,"type":"quantitative","scale":{"domain":[-5.9,112.9]}}}},
{"data":{"name":"l"},"transform":[{"filter":"datum.c=='Finland'"}],"mark":"line","encoding":{"x":{"field":"pr","type":"quantitative","scale":{"domain":[0.58,7.42]}},"y":{"field":"do","type":"quantitative","scale":{"domain":[-5.9,112.9]}}}},
{"data":{"name":"p"},"transform":[{"filter":"datum.c=='Finland'"}],"mark":"point","encoding":{"x":{"field":"pr","type":"quantitative","scale":{"domain":[0.58,7.42]}},"y":{"field":"do","type":"quantitative","scale":{"domain":[-5.9,112.9]}}}}
]},
{"layer":[
{"data":{"values":[{}]},"mark":"rect","encoding":{"x":{"datum":0.58,"type":"quantitative","scale":{"domain":[0.58,7.42]}},"x2":{"datum":7.42},"y":{"datum":90.1,"type":"quantitative","scale":{"domain":[-5.9,112.9]}},"y2":{"datum":112.9}}},
{"data":{"values":[{}]},"mark":{"type":"text","text":"Ghana"},"encoding":{"x":{"datum":4,"type":"quantitative","scale":{"domain":[0.58,7.42]}},"y":{"datum":101.5,"type":"quantitative","scale":{"domain":[-5.9,112.9]}}}},
{"data":{"name":"l"},"transform":[{"filter":"datum.c=='Ghana'"}],"mark":"line","encoding":{"x":{"field":"pr","type":"quantitative","scale":{"domain":[0.58,7.42]}},"y":{"field":"do","type":"quantitative","scale":{"domain":[-5.9,112.9]}}}},
{"data":{"name":"p"},"transform":[{"filter":"datum.c=='Ghana'"}],"mark":"point","encoding":{"x":{"field":"pr","type":"quantitative","scale":{"domain":[0.58,7.42]}},"y":{"field":"do","type":"quantitative","scale":{"domain":[-5.9,112.9]}}}}
]},
{"layer":[
{"data":{"values":[{}]},"mark":"rect","encoding":{"x":{"datum":0.58,"type":"quantitative","scale":{"domain":[0.58,7.42]}},"x2":{"datum":7.42},"y":{"datum":90.1,"type":"quantitative","scale":{"domain":[-5.9,112.9]}},"y2":{"datum":112.9}}},
{"data":{"values":[{}]},"mark":{"type":"text","text":"Hungary"},"encoding":{"x":{"datum":4,"type":"quantitative","scale":{"domain":[0.58,7.42]}},"y":{"datum":101.5,"type":"quantitative","scale":{"domain":[-5.9,112.9]}}}},
{"data":{"name":"l"},"transform":[{"filter":"datum.c=='Hungary'"}],"mark":"line","encoding":{"x":{"field":"pr","type":"quantitative","scale":{"domain":[0.58,7.42]}},"y":{"field":"do","type":"quantitative","scale":{"domain":[-5.9,112.9]}}}},
{"data":{"name":"p"},"transform":[{"filter":"datum.c=='Hungary'"}],"mark":"point","encoding":{"x":{"field":"pr","type":"quantitative","scale":{"domain":[0.58,7.42]}},"y":{"field":"do","type":"quantitative","scale":{"domain":[-5.9,112.9]}}}}
]},
{"layer":[
{"data":{"values":[{}]},"mark":"rect","encoding":{"x":{"datum":0.58,"type":"quantitative","scale":{"domain":[0.58,7.42]}},"x2":{"datum":7.42},"y":{"datum":90.1,"type":"quantitative","scale":{"domain":[-5.9,112.9]}},"y2":{"datum":112.9}}},
{"data":{"values":[{}]},"mark":{"type":"text","text":"India"},"encoding":{"x":{"datum":4,"type":"quantitative","scale":{"domain":[0.58,7.42]}},"y":{"datum":101.5,"type":"quantitative","scale":{"domain":[-5.9,112.9]}}}},
{"data":{"name":"l"},"transform":[{"filter":"datum.c=='India'"}],"mark":"line","encoding":{"x":{"field":"pr","type":"quantitative","scale":{"domain":[0.58,7.42]}},"y":{"field":"do","type":"quantitative","scale":{"domain":[-5.9,112.9]},"axis":{"orient":"right","values":[0,20,40,60,80],"title":null}}}},
{"data":{"name":"p"},"transform":[{"filter":"datum.c=='India'"}],"mark":"point","encoding":{"x":{"field":"pr","type":"quantitative","scale":{"domain":[0.58,7.42]}},"y":{"field":"do","type":"quantitative","scale":{"domain":[-5.9,112.9]}}}}
],"resolve":{"axis":{"x":"independent","y":"independent"}}},

{"layer":[
{"data":{"values":[{}]},"mark":"rect","encoding":{"x":{"datum":0.58,"type":"quantitative","scale":{"domain":[0.58,7.42]}},"x2":{"datum":7.42},"y":{"datum":90.1,"type":"quantitative","scale":{"domain":[-5.9,112.9]}},"y2":{"datum":112.9}}},
{"data":{"values":[{}]},"mark":{"type":"text","text":"Argentina"},"encoding":{"x":{"datum":4,"type":"quantitative","scale":{"domain":[0.58,7.42]}},"y":{"datum":101.5,"type":"quantitative","scale":{"domain":[-5.9,112.9]}}}},
{"data":{"name":"l"},"transform":[{"filter":"datum.c=='Argentina'"}],"mark":"line","encoding":{"x":{"field":"pr","type":"quantitative","scale":{"domain":[0.58,7.42]}},"y":{"field":"do","type":"quantitative","scale":{"domain":[-5.9,112.9]}}}},
{"data":{"name":"p"},"transform":[{"filter":"datum.c=='Argentina'"}],"mark":"point","encoding":{"x":{"field":"pr","type":"quantitative","scale":{"domain":[0.58,7.42]},"axis":{"orient":"bottom","values":[1,2,3,4,5,6,7],"title":null}},"y":{"field":"do","type":"quantitative","scale":{"domain":[-5.9,112.9]},"axis":{"orient":"left","values":[0,20,40,60,80],"title":null}}}}
],"resolve":{"axis":{"x":"independent","y":"independent"}}},
{"layer":[
{"data":{"values":[{}]},"mark":"rect","encoding":{"x":{"datum":0.58,"type":"quantitative","scale":{"domain":[0.58,7.42]}},"x2":{"datum":7.42},"y":{"datum":90.1,"type":"quantitative","scale":{"domain":[-5.9,112.9]}},"y2":{"datum":112.9}}},
{"data":{"values":[{}]},"mark":{"type":"text","text":"Bangladesh"},"encoding":{"x":{"datum":4,"type":"quantitative","scale":{"domain":[0.58,7.42]}},"y":{"datum":101.5,"type":"quantitative","scale":{"domain":[-5.9,112.9]}}}},
{"data":{"name":"l"},"transform":[{"filter":"datum.c=='Bangladesh'"}],"mark":"line","encoding":{"x":{"field":"pr","type":"quantitative","scale":{"domain":[0.58,7.42]}},"y":{"field":"do","type":"quantitative","scale":{"domain":[-5.9,112.9]}}}},
{"data":{"name":"p"},"transform":[{"filter":"datum.c=='Bangladesh'"}],"mark":"point","encoding":{"x":{"field":"pr","type":"quantitative","scale":{"domain":[0.58,7.42]},"axis":{"orient":"bottom","values":[1,2,3,4,5,6,7],"labels":false,"title":null}},"y":{"field":"do","type":"quantitative","scale":{"domain":[-5.9,112.9]}}}}
],"resolve":{"axis":{"x":"independent","y":"independent"}}},
{"layer":[
{"data":{"values":[{}]},"mark":"rect","encoding":{"x":{"datum":0.58,"type":"quantitative","scale":{"domain":[0.58,7.42]}},"x2":{"datum":7.42},"y":{"datum":90.1,"type":"quantitative","scale":{"domain":[-5.9,112.9]}},"y2":{"datum":112.9}}},
{"data":{"values":[{}]},"mark":{"type":"text","text":"Bolivia"},"encoding":{"x":{"datum":4,"type":"quantitative","scale":{"domain":[0.58,7.42]}},"y":{"datum":101.5,"type":"quantitative","scale":{"domain":[-5.9,112.9]}}}},
{"data":{"name":"l"},"transform":[{"filter":"datum.c=='Bolivia'"}],"mark":"line","encoding":{"x":{"field":"pr","type":"quantitative","scale":{"domain":[0.58,7.42]}},"y":{"field":"do","type":"quantitative","scale":{"domain":[-5.9,112.9]}}}},
{"data":{"name":"p"},"transform":[{"filter":"datum.c=='Bolivia'"}],"mark":"point","encoding":{"x":{"field":"pr","type":"quantitative","scale":{"domain":[0.58,7.42]},"axis":{"orient":"bottom","values":[1,2,3,4,5,6,7],"title":"Political Rights (1 = best, 7 = worst)","titleX":194,"titlePadding":8}},"y":{"field":"do","type":"quantitative","scale":{"domain":[-5.9,112.9]}}}}
],"resolve":{"axis":{"x":"independent","y":"independent"}}},
{"layer":[
{"data":{"values":[{}]},"mark":"rect","encoding":{"x":{"datum":0.58,"type":"quantitative","scale":{"domain":[0.58,7.42]}},"x2":{"datum":7.42},"y":{"datum":90.1,"type":"quantitative","scale":{"domain":[-5.9,112.9]}},"y2":{"datum":112.9}}},
{"data":{"values":[{}]},"mark":{"type":"text","text":"Brazil"},"encoding":{"x":{"datum":4,"type":"quantitative","scale":{"domain":[0.58,7.42]}},"y":{"datum":101.5,"type":"quantitative","scale":{"domain":[-5.9,112.9]}}}},
{"data":{"name":"l"},"transform":[{"filter":"datum.c=='Brazil'"}],"mark":"line","encoding":{"x":{"field":"pr","type":"quantitative","scale":{"domain":[0.58,7.42]}},"y":{"field":"do","type":"quantitative","scale":{"domain":[-5.9,112.9]}}}},
{"data":{"name":"p"},"transform":[{"filter":"datum.c=='Brazil'"}],"mark":"point","encoding":{"x":{"field":"pr","type":"quantitative","scale":{"domain":[0.58,7.42]},"axis":{"orient":"bottom","values":[1,2,3,4,5,6,7],"labels":false,"title":null}},"y":{"field":"do","type":"quantitative","scale":{"domain":[-5.9,112.9]}}}}
],"resolve":{"axis":{"x":"independent","y":"independent"}}},
{"layer":[
{"data":{"values":[{}]},"mark":"rect","encoding":{"x":{"datum":0.58,"type":"quantitative","scale":{"domain":[0.58,7.42]}},"x2":{"datum":7.42},"y":{"datum":90.1,"type":"quantitative","scale":{"domain":[-5.9,112.9]}},"y2":{"datum":112.9}}},
{"data":{"values":[{}]},"mark":{"type":"text","text":"Chile"},"encoding":{"x":{"datum":4,"type":"quantitative","scale":{"domain":[0.58,7.42]}},"y":{"datum":101.5,"type":"quantitative","scale":{"domain":[-5.9,112.9]}}}},
{"data":{"name":"l"},"transform":[{"filter":"datum.c=='Chile'"}],"mark":"line","encoding":{"x":{"field":"pr","type":"quantitative","scale":{"domain":[0.58,7.42]}},"y":{"field":"do","type":"quantitative","scale":{"domain":[-5.9,112.9]}}}},
{"data":{"name":"p"},"transform":[{"filter":"datum.c=='Chile'"}],"mark":"point","encoding":{"x":{"field":"pr","type":"quantitative","scale":{"domain":[0.58,7.42]},"axis":{"orient":"bottom","values":[1,2,3,4,5,6,7],"title":null}},"y":{"field":"do","type":"quantitative","scale":{"domain":[-5.9,112.9]}}}}
],"resolve":{"axis":{"x":"independent","y":"independent"}}},
{"layer":[
{"data":{"values":[{}]},"mark":"rect","encoding":{"x":{"datum":0.58,"type":"quantitative","scale":{"domain":[0.58,7.42]}},"x2":{"datum":7.42},"y":{"datum":90.1,"type":"quantitative","scale":{"domain":[-5.9,112.9]}},"y2":{"datum":112.9}}},
{"data":{"values":[{}]},"mark":{"type":"text","text":"China"},"encoding":{"x":{"datum":4,"type":"quantitative","scale":{"domain":[0.58,7.42]}},"y":{"datum":101.5,"type":"quantitative","scale":{"domain":[-5.9,112.9]}}}},
{"data":{"name":"l"},"transform":[{"filter":"datum.c=='China'"}],"mark":"line","encoding":{"x":{"field":"pr","type":"quantitative","scale":{"domain":[0.58,7.42]}},"y":{"field":"do","type":"quantitative","scale":{"domain":[-5.9,112.9]},"axis":{"orient":"right","values":[0,20,40,60,80],"labels":false,"title":null}}}},
{"data":{"name":"p"},"transform":[{"filter":"datum.c=='China'"}],"mark":"point","encoding":{"x":{"field":"pr","type":"quantitative","scale":{"domain":[0.58,7.42]},"axis":{"orient":"bottom","values":[1,2,3,4,5,6,7],"labels":false,"title":null}},"y":{"field":"do","type":"quantitative","scale":{"domain":[-5.9,112.9]}}}}
],"resolve":{"axis":{"x":"independent","y":"independent"}}}
],
"config": {
"font": "Liberation Sans",
"view": {"continuousWidth": 194, "continuousHeight": 223.4, "stroke": "black", "strokeWidth": 1.5},
"axis": {"disable": true, "domain": false, "grid": false, "tickColor": "black", "tickWidth": 1.5, "tickSize": 12, "labelColor": "black", "labelFont": "Liberation Sans", "labelFontSize": 25, "titleFont": "Liberation Sans", "titleFontSize": 31, "titleFontWeight": "normal", "titleColor": "black", "labelOverlap": false},
"axisTop": {"labelPadding": 16},
"axisBottom": {"labelPadding": 19},
"axisLeft": {"labelPadding": 20},
"axisRight": {"labelPadding": 10},
"rect": {"fill": "#f0f0f0", "stroke": "black", "strokeWidth": 1.5},
"text": {"fontSize": 30, "color": "black", "baseline": "middle", "align": "center", "font": "Liberation Sans"},
"line": {"color": "black", "strokeWidth": 1.5, "clip": true},
"point": {"shape": "M0,-1L0.75,-0.3L0.75,0.3L0,1L-0.75,0.3L-0.75,-0.3Z", "filled": false, "color": "black", "size": 115, "strokeWidth": 1.5, "opacity": 1}
}
}
